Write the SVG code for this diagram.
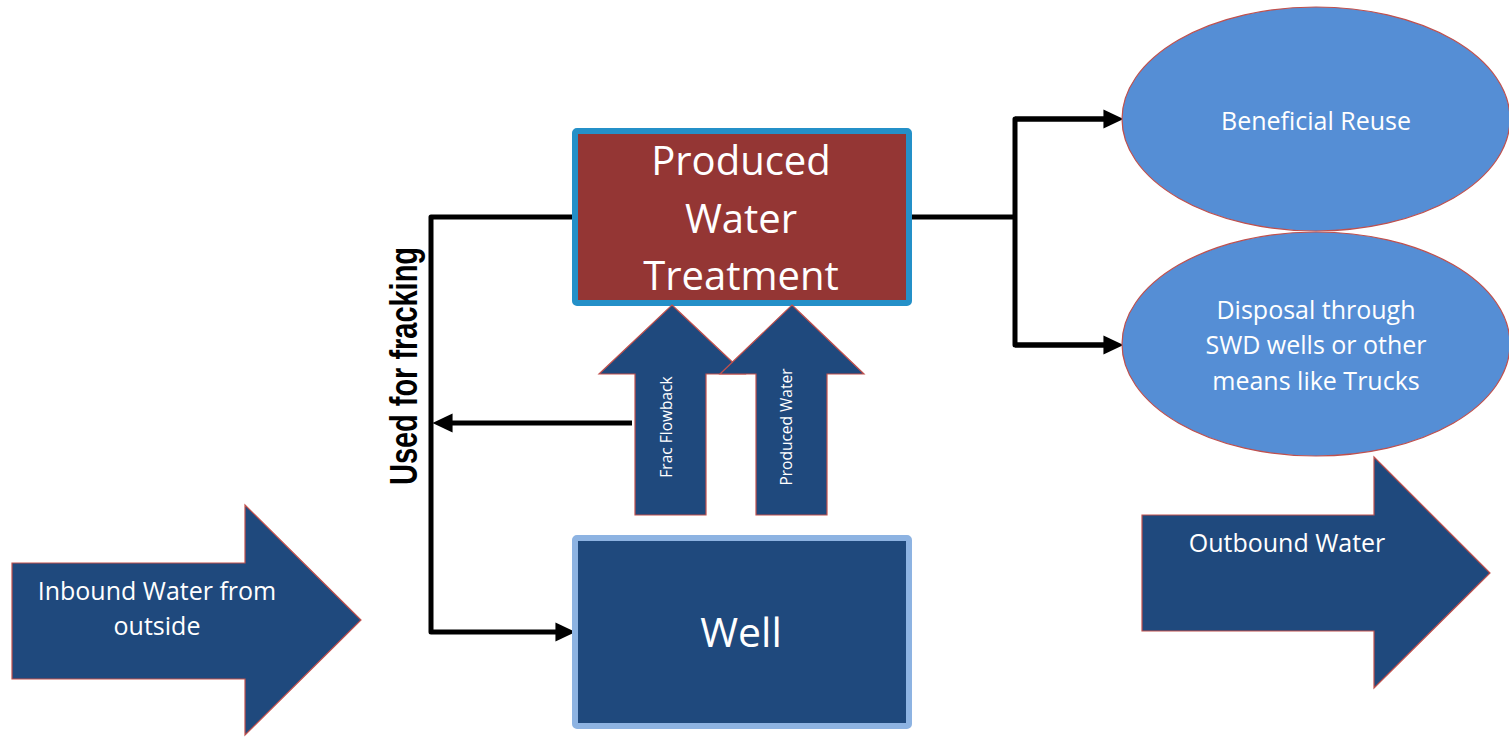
<svg xmlns="http://www.w3.org/2000/svg" width="1509" height="737" viewBox="0 0 1509 737">
<style>
.blk{fill:#1f497d;stroke:#c0504d;stroke-width:1.2}
.ell{fill:#558ed5;stroke:#c0504d;stroke-width:1.2}
.wt{fill:#ffffff;font-family:"Open Sans","Liberation Sans",sans-serif;text-anchor:middle}
.conn{fill:none;stroke:#000;stroke-width:5;stroke-linejoin:round}
</style>
<defs>
<marker id="ah" markerUnits="userSpaceOnUse" markerWidth="20" markerHeight="20" viewBox="0 0 18 18" refX="0.5" refY="9" orient="auto">
<path d="M0,0.5 L18,9 L0,17.5 Z" fill="#000"/>
</marker>
</defs>
<rect width="1509" height="737" fill="#ffffff"/>

<g id="connectors">
<polyline class="conn" points="572,217 431,217 431,632 556,632" marker-end="url(#ah)"/>
<line class="conn" x1="632" y1="423" x2="452" y2="423" marker-end="url(#ah)"/>
<polyline class="conn" points="912,217 1015,217"/>
<polyline class="conn" points="1104,119 1015,119 1015,345 1104,345"/>
<line class="conn" x1="1015" y1="119" x2="1104" y2="119" marker-end="url(#ah)"/>
<line class="conn" x1="1015" y1="345" x2="1104" y2="345" marker-end="url(#ah)"/>
</g>

<g id="used-for-fracking">
<text transform="translate(417,366) rotate(-90)" text-anchor="middle" font-family="'Liberation Sans',Arial,sans-serif" font-weight="bold" font-size="38" textLength="238" lengthAdjust="spacingAndGlyphs" fill="#000">Used for fracking</text>
</g>

<g id="produced-water-treatment">
<rect x="575" y="131" width="334" height="172" rx="2" fill="#943634" stroke="#2490c8" stroke-width="6"/>
<text class="wt" font-size="40"><tspan x="741" y="175">Produced</tspan><tspan x="741" y="233">Water</tspan><tspan x="741" y="290">Treatment</tspan></text>
</g>

<g id="well">
<rect x="575" y="538" width="334" height="188" rx="2" fill="#1f497d" stroke="#8db3e2" stroke-width="6"/>
<text class="wt" x="741" y="647" font-size="41">Well</text>
</g>

<g id="frac-flowback">
<polygon class="blk" points="672,305 745,374 706,374 706,515 635,515 635,374 599,374"/>
<text class="wt" transform="translate(672,427) rotate(-90)" font-size="15.5">Frac Flowback</text>
</g>

<g id="produced-water">
<polygon class="blk" points="792,305 864,374 827,374 827,515 756,515 756,374 720,374"/>
<text class="wt" transform="translate(792,427) rotate(-90)" font-size="15.5">Produced Water</text>
</g>

<g id="beneficial-reuse">
<ellipse class="ell" cx="1316" cy="119" rx="194" ry="112"/>
<text class="wt" x="1316" y="130" font-size="25">Beneficial Reuse</text>
</g>

<g id="disposal">
<ellipse class="ell" cx="1316" cy="344" rx="194" ry="112"/>
<text class="wt" font-size="25"><tspan x="1316" y="319">Disposal through</tspan><tspan x="1316" y="354">SWD wells or other</tspan><tspan x="1316" y="390">means like Trucks</tspan></text>
</g>

<g id="inbound-water">
<polygon class="blk" points="12,563 245,563 245,505 361,620 245,735 245,679 12,679"/>
<text class="wt" font-size="25"><tspan x="157" y="600">Inbound Water from</tspan><tspan x="157" y="635">outside</tspan></text>
</g>

<g id="outbound-water">
<polygon class="blk" points="1142,515 1374,515 1374,457 1490,573 1374,688 1374,631 1142,631"/>
<text class="wt" x="1287" y="552" font-size="25">Outbound Water</text>
</g>
</svg>
